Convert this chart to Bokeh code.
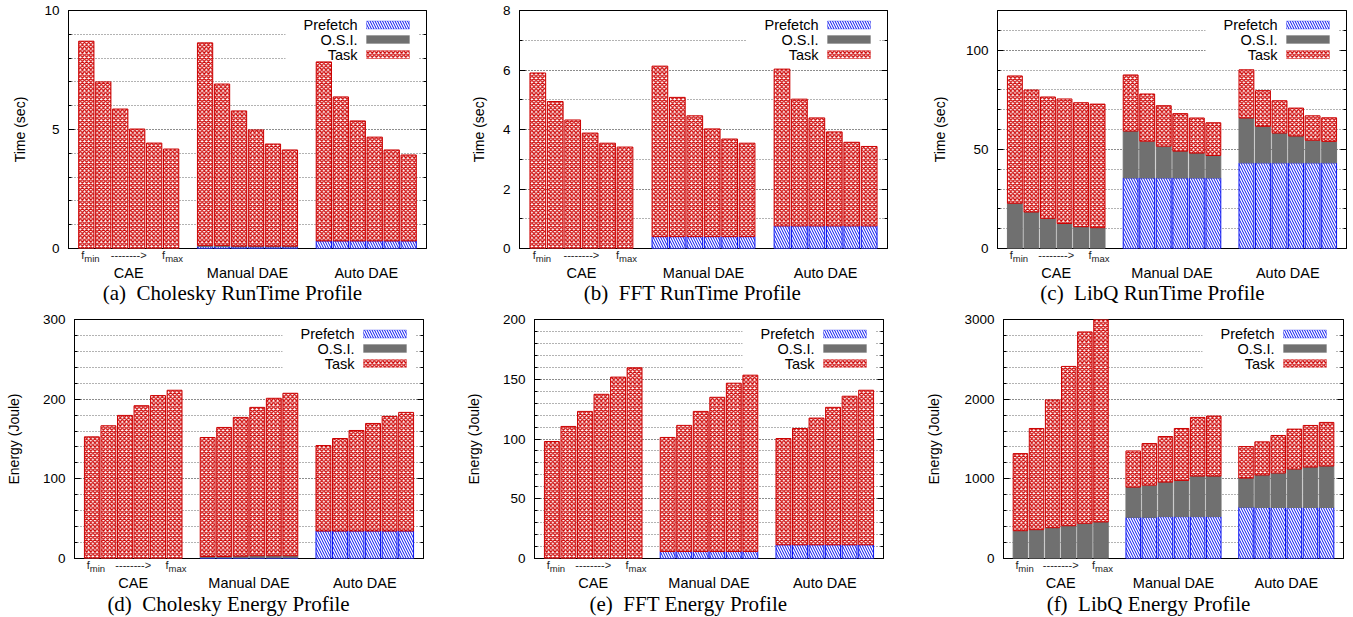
from bokeh.plotting import figure
from bokeh.models import Range1d, FixedTicker, LinearAxis, Label, BoxAnnotation, ColumnDataSource
from bokeh.layouts import column, row
from bokeh.embed import file_html
from bokeh.resources import INLINE

# ---------------- data ----------------
groups = ["CAE", "Manual DAE", "Auto DAE"]
series = ["Prefetch", "O.S.I.", "Task"]

# (a) Cholesky RunTime (sec)
chol_rt_prefetch = [0, 0, 0, 0, 0, 0, 0.08, 0.08, 0.07, 0.07, 0.07, 0.07, 0.32, 0.32, 0.32, 0.32, 0.32, 0.32]
chol_rt_osi = [0, 0, 0, 0, 0, 0, 0.05, 0.05, 0.03, 0.03, 0.03, 0.03, 0, 0, 0, 0, 0, 0]
chol_rt_total = [8.71, 7.00, 5.86, 5.02, 4.43, 4.18, 8.64, 6.91, 5.78, 4.98, 4.39, 4.14, 7.84, 6.37, 5.36, 4.68, 4.14, 3.93]

# (b) FFT RunTime (sec)
fft_rt_prefetch = [0, 0, 0, 0, 0, 0, 0.40, 0.40, 0.40, 0.40, 0.40, 0.40, 0.76, 0.76, 0.76, 0.76, 0.76, 0.76]
fft_rt_osi = [0] * 18
fft_rt_total = [5.90, 4.94, 4.32, 3.88, 3.54, 3.41, 6.13, 5.08, 4.46, 4.02, 3.68, 3.54, 6.03, 5.02, 4.39, 3.92, 3.57, 3.43]

# (c) LibQ RunTime (sec)
libq_rt_prefetch = [0, 0, 0, 0, 0, 0, 35.6, 35.6, 35.6, 35.6, 35.6, 35.6, 43.2, 43.2, 43.2, 43.2, 43.2, 43.2]
libq_rt_osi = [22.8, 18.4, 15.2, 12.6, 11.0, 10.5, 23.6, 18.5, 16.0, 13.5, 12.5, 11.3, 22.6, 18.4, 15.0, 13.5, 11.4, 10.8]
libq_rt_total = [87.0, 79.9, 76.4, 75.4, 73.5, 72.8, 87.5, 77.9, 72.0, 68.0, 65.8, 63.4, 90.1, 79.6, 74.5, 70.8, 66.9, 65.9]

# (d) Cholesky Energy (Joule)
chol_en_prefetch = [0, 0, 0, 0, 0, 0, 1.0, 1.0, 1.0, 1.0, 1.0, 1.0, 34.5, 34.5, 34.5, 34.5, 34.5, 34.5]
chol_en_osi = [0, 0, 0, 0, 0, 0, 1.5, 1.5, 2.0, 2.5, 2.5, 2.5, 0, 0, 0, 0, 0, 0]
chol_en_total = [152.7, 166.6, 179.6, 191.8, 204.5, 211.2, 151.9, 164.5, 177.1, 189.7, 201.1, 207.4, 141.8, 150.6, 160.7, 169.5, 178.4, 183.4]

# (e) FFT Energy (Joule)
fft_en_prefetch = [0, 0, 0, 0, 0, 0, 5.9, 5.9, 5.9, 5.9, 5.9, 5.9, 11.5, 11.5, 11.5, 11.5, 11.5, 11.5]
fft_en_osi = [0] * 18
fft_en_total = [97.9, 110.5, 123.1, 137.4, 151.8, 159.6, 101.3, 111.4, 123.1, 134.9, 146.7, 153.4, 100.4, 108.8, 117.5, 126.5, 135.8, 140.8]

# (f) LibQ Energy (Joule)
libq_en_prefetch = [0, 0, 0, 0, 0, 0, 517, 517, 526, 526, 526, 526, 644, 640, 640, 640, 640, 640]
libq_en_osi = [349, 362, 387, 412, 442, 459, 379, 404, 433, 454, 509, 509, 366, 408, 433, 483, 508, 521]
libq_en_total = [1317, 1632, 1990, 2411, 2844, 3000, 1350, 1443, 1531, 1632, 1771, 1788, 1405, 1464, 1544, 1624, 1670, 1708]

# y tick labels (major)
ticks_a = [0, 5, 10]
ticks_b = [0, 2, 4, 6, 8]
ticks_c = [0, 50, 100]
ticks_d = [0, 100, 200, 300]
ticks_e = [0, 50, 100, 150, 200]
ticks_f = [0, 1000, 2000, 3000]

SANS = "Liberation Sans"
SERIF = "Liberation Serif"
RED = "#cc0000"
BLUE = "#0a14f0"
GRAY = "#707070"
GRID = "#666666"
X0, X1 = -1.05, 20.05
BELOW = 18  # chart canvas below its frame (holds the f_min ---> f_max row)
TASK_HATCH = dict(hatch_pattern="diagonal_cross", hatch_color=RED, hatch_scale=4.2, hatch_weight=1.3)
PF_HATCH = dict(hatch_pattern="left_diagonal_line", hatch_color=BLUE, hatch_scale=5, hatch_weight=1)


def chart(prefetch, osi, total, ymax, major, step, ylabel,
          W, H, left, right, top, ylab_standoff):
    fw = W - left - right
    fh = H - top - BELOW
    xr = Range1d(X0, X1)
    p = figure(width=W, height=H, output_backend="svg", toolbar_location=None,
               x_range=xr, y_range=Range1d(0, ymax), x_axis_type=None,
               min_border_left=left, min_border_right=right,
               min_border_top=top, min_border_bottom=BELOW,
               background_fill_color="white", border_fill_color="white")

    def dx(px):
        return px * (X1 - X0) / fw

    def dy(px):
        return px * ymax / fh

    # opaque key background: hides the dotted grid, drawn beneath the bars
    p.add_layout(BoxAnnotation(left=X1 - dx(141), right=X1 - dx(8), top=ymax - dy(1),
                               bottom=ymax - dy(52), fill_color="white", fill_alpha=1,
                               line_color=None, level="underlay"))

    xs = [g * 7 + i for g in range(3) for i in range(6)]
    pf_src = {"x": [], "b": [], "t": []}
    os_src = {"x": [], "b": [], "t": []}
    tk_src = {"x": [], "b": [], "t": []}
    for x, pv, ov, tv in zip(xs, prefetch, osi, total):
        if pv > 0:
            pf_src["x"].append(x); pf_src["b"].append(0); pf_src["t"].append(pv)
        if ov > 0:
            os_src["x"].append(x); os_src["b"].append(pv); os_src["t"].append(pv + ov)
        tk_src["x"].append(x); tk_src["b"].append(pv + ov); tk_src["t"].append(tv)

    p.vbar(x="x", bottom="b", top="t", width=0.9, source=ColumnDataSource(pf_src),
           fill_color="white", line_color=BLUE, line_width=1, **PF_HATCH)
    p.vbar(x="x", bottom="b", top="t", width=0.9, source=ColumnDataSource(os_src),
           fill_color=GRAY, line_color=GRAY, line_width=1)
    p.vbar(x="x", bottom="b", top="t", width=0.9, source=ColumnDataSource(tk_src),
           fill_color="white", line_color=RED, line_width=1, **TASK_HATCH)

    minor = []
    v = 0
    while v <= ymax + 1e-9:
        minor.append(v)
        v += step
    yt = FixedTicker(ticks=major, minor_ticks=minor)

    p.yaxis.ticker = yt
    p.yaxis.axis_label = ylabel
    p.yaxis.axis_label_text_font = SANS
    p.yaxis.axis_label_text_font_style = "normal"
    p.yaxis.axis_label_text_font_size = "14px"
    p.yaxis.axis_label_text_color = "black"
    p.yaxis.axis_label_standoff = ylab_standoff
    p.yaxis.major_label_text_font = SANS
    p.yaxis.major_label_text_font_size = "13.5px"
    p.yaxis.major_label_text_color = "black"
    p.yaxis.major_label_standoff = 9
    p.yaxis.major_tick_in = 6
    p.yaxis.major_tick_out = 0
    p.yaxis.minor_tick_in = 3
    p.yaxis.minor_tick_out = 0
    p.yaxis.axis_line_color = "black"

    rax = LinearAxis(ticker=yt, major_label_text_color=None, major_label_standoff=0,
                     major_tick_in=6, major_tick_out=0, minor_tick_in=3, minor_tick_out=0,
                     axis_line_color=None)
    p.add_layout(rax, "right")

    # f_min ------> f_max row, as two stacked bottom axes ("f" row, then subscripts)
    def tx(bar, px):
        return round(bar + dx(px), 5)

    f_ticks = [tx(0, -3.5), tx(2.5, 0), tx(5, -7.5)]
    sub_ticks = [tx(0, 5.6), tx(5, 3)]
    common = dict(major_tick_line_color=None, minor_tick_line_color=None, axis_line_color=None,
                  major_tick_in=0, major_tick_out=0, minor_tick_in=0, minor_tick_out=0,
                  major_label_text_font=SANS, major_label_text_color="#222222")
    axf = LinearAxis(ticker=FixedTicker(ticks=f_ticks),
                     major_label_overrides={f_ticks[0]: "f", f_ticks[1]: "-------->", f_ticks[2]: "f"},
                     major_label_text_font_size="11px", major_label_standoff=0, **common)
    axs = LinearAxis(ticker=FixedTicker(ticks=sub_ticks),
                     major_label_overrides={sub_ticks[0]: "min", sub_ticks[1]: "max"},
                     major_label_text_font_size="9.5px", major_label_standoff=-11, **common)
    p.add_layout(axf, "below")
    p.add_layout(axs, "below")

    p.ygrid.ticker = yt
    p.ygrid.grid_line_color = GRID
    p.ygrid.grid_line_dash = "1 2"
    p.ygrid.minor_grid_line_color = GRID
    p.ygrid.minor_grid_line_dash = "1 2"

    p.outline_line_color = "black"
    p.outline_line_width = 1
    p.outline_line_alpha = 1

    # key entries (label left of its sample, as in the original)
    rows = [14.5, 29, 44]
    styles = [
        dict(fill_color="white", line_color=BLUE, **PF_HATCH),
        dict(fill_color=GRAY, line_color=GRAY),
        dict(fill_color="white", line_color=RED, **TASK_HATCH),
    ]
    for name, rpx, st in zip(series, rows, styles):
        yc = ymax - dy(rpx)
        p.add_layout(BoxAnnotation(left=X1 - dx(60), right=X1 - dx(17), top=yc + dy(4),
                                   bottom=yc - dy(4), fill_alpha=1, line_width=1, **st))
        p.add_layout(Label(x=X1 - dx(69), y=yc, text=name, text_align="right",
                           text_baseline="middle", text_font=SANS, text_font_size="14.5px",
                           text_color="black"))
    return p, xr


def captions(xr, caption, W, H, left, right, cap_dx, cap_off, grp_off):
    fw = W - left - right
    t = figure(width=W, height=H, output_backend="svg", toolbar_location=None,
               x_range=xr, y_range=Range1d(-H, 0), x_axis_type=None, y_axis_type=None,
               min_border_left=left, min_border_right=right, min_border_top=0,
               min_border_bottom=0, outline_line_color=None,
               background_fill_color="white", border_fill_color="white")

    def dx(px):
        return px * (X1 - X0) / fw

    def y(off):  # off: pixels below the chart frame's bottom edge
        return -(off - BELOW)

    for g, name in enumerate(groups):
        t.add_layout(Label(x=g * 7 + 2.5, y=y(grp_off), text=name, text_align="center",
                           text_baseline="middle", text_font=SANS, text_font_size="14.5px",
                           text_color="black"))
    t.add_layout(Label(x=X0 + dx(cap_dx), y=y(cap_off), text=caption, text_align="center",
                       text_baseline="middle", text_font=SERIF, text_font_size="21px",
                       text_color="black"))
    return t


def panel(prefetch, osi, total, ymax, major, step, ylabel, caption,
          W, chart_h, text_h, left, right, top, ylab_standoff, cap_dx, cap_off):
    p, xr = chart(prefetch, osi, total, ymax, major, step, ylabel,
                  W, chart_h, left, right, top, ylab_standoff)
    t = captions(xr, caption, W, text_h, left, right, cap_dx, cap_off, 24)
    return column(p, t, spacing=0)


# top row: chart 266 px (frame 10..248) + text band 44 px
pa = panel(chol_rt_prefetch, chol_rt_osi, chol_rt_total, 10, ticks_a, 1, "Time (sec)",
           "(a)\u00a0 Cholesky RunTime Profile", 460, 266, 44, 68, 34, 10, 13, 164, 44)
pb = panel(fft_rt_prefetch, fft_rt_osi, fft_rt_total, 8, ticks_b, 1, "Time (sec)",
           "(b)\u00a0 FFT RunTime Profile", 460, 266, 44, 59, 33, 10, 13, 173, 44)
pc = panel(libq_rt_prefetch, libq_rt_osi, libq_rt_total, 120, ticks_c, 10, "Time (sec)",
           "(c)\u00a0 LibQ RunTime Profile", 433, 266, 44, 77, 7, 10, 15, 155, 44)
# bottom row: chart 266 px (frame 319..558) + text band 41 px
pd = panel(chol_en_prefetch, chol_en_osi, chol_en_total, 300, ticks_d, 20, "Energy (Joule)",
           "(d)\u00a0 Cholesky Energy Profile", 460, 266, 41, 74, 37, 9, 18, 154, 45)
pe = panel(fft_en_prefetch, fft_en_osi, fft_en_total, 200, ticks_e, 10, "Energy (Joule)",
           "(e)\u00a0 FFT Energy Profile", 460, 266, 41, 74, 37, 9, 18, 154, 45)
pf = panel(libq_en_prefetch, libq_en_osi, libq_en_total, 3000, ticks_f, 200, "Energy (Joule)",
           "(f)\u00a0 LibQ Energy Profile", 433, 266, 41, 83, 10, 9, 19, 145, 45)

layout = column(row(pa, pb, pc, spacing=0), row(pd, pe, pf, spacing=0), spacing=0)
open("out.html", "w").write(file_html(layout, INLINE))
